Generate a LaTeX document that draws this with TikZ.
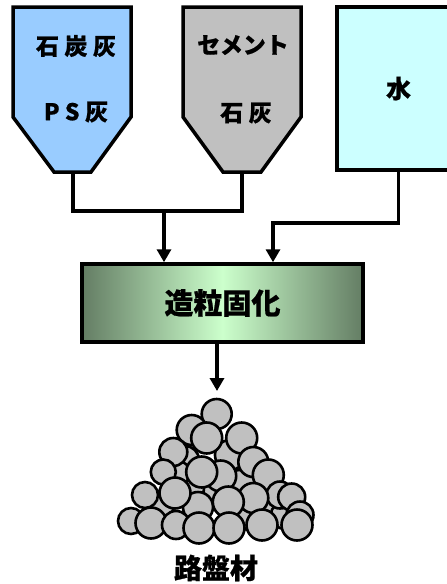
\documentclass[tikz,border=0pt]{standalone}
\usepackage{fontspec}
\setmainfont{Noto Sans CJK JP}[BoldFeatures={FakeBold=0.6}]
\newfontfamily\widefont{Noto Sans CJK JP}[LetterSpace=24, BoldFeatures={FakeBold=0.6}]
\usetikzlibrary{arrows.meta}

\definecolor{ashblue}{HTML}{99CCFF}
\definecolor{limegray}{HTML}{C0C0C0}
\definecolor{waterblue}{HTML}{CCFFFF}
\definecolor{granedge}{HTML}{647D64}
\definecolor{granmid}{HTML}{CCFFCC}

\begin{document}
\begin{tikzpicture}[x=1pt,y=-1pt,
  hopper/.style={line width=3.5pt},
  flow/.style={line width=3.5pt},
  feed/.style={flow, -{Triangle[length=13pt,width=14pt]}},
  ball/.style={line width=2.6pt, fill=limegray},
  hoptext/.style={font=\widefont\bfseries\fontsize{23}{23}\selectfont}]
  \useasboundingbox (0,0) rectangle (447,584);
  \clip (0,0) rectangle (447,584);

  % silos
  \draw[hopper, fill=ashblue] (13,7) -- (131,7) -- (131,117) -- (91,172) -- (54,172) -- (13,117) -- cycle;
  \draw[hopper, fill=limegray] (183,7) -- (301,7) -- (301,117) -- (261,172) -- (223,172) -- (183,117) -- cycle;
  \node[hoptext] (ash) at (76,46) {石炭灰};
  \node[hoptext] (psash) at (76,112) {PS灰};
  \node[hoptext, font=\bfseries\fontsize{23}{23}\selectfont] (cement) at (243,45) {セメント};
  \node[hoptext] (lime) at (246,113) {石灰};
  \node[draw, line width=3.5pt, fill=waterblue, minimum width=123pt, minimum height=163pt,
    font=\bfseries\fontsize{25}{25}\selectfont] (water) at (398.5,88.5) {水};

  % mixer
  \node[draw, line width=3.5pt, left color=granedge, right color=granedge, middle color=granmid,
    minimum width=281pt, minimum height=78pt,
    font=\bfseries\fontsize{29}{29}\selectfont] (gran) at (222.5,303) {造粒固化};

  \coordinate (ashout) at (73,172);
  \coordinate (limeout) at (242,172);
  \coordinate (mix) at (164,211);
  \coordinate (wturn) at (273,223);
  \coordinate (pile) at (217,391);
  \draw[flow] (ashout) |- (limeout |- mix) -- (limeout);
  \draw[feed] (mix) -- (mix |- gran.north);
  \draw[feed] (water.south) |- (wturn) -- (wturn |- gran.north);
  \draw[feed] (pile |- gran.south) -- (pile);

  % pile of pellets, back to front
  \foreach \bx/\by/\br in {
      240/485/15, 215/490/15, 190/488/14, 270/510/14, 160/505/14, 250/515/15, 285/515/14,
      216.7/414/15, 191.7/430/15, 185/460/14, 178/473/12, 230/455/15,
      241.7/438/15.5, 206.7/438/15.5, 173.3/452/14, 253.3/462/15,
      220.7/476/15.5, 268.3/475/15.5, 201.7/472/15.5, 163.3/472/12.5,
      280/495/13.5, 198/507/15, 145/495/13, 291.7/497/13.5,
      253.3/498/15, 175/493/15.5, 228.3/502/15.5, 300/515/13.5,
      131/521/13, 151/523/15.5, 176/525/14, 199/528/15.5,
      229/528/15.5, 262/525/15.5, 297/525/15.5}
    \draw[ball] (\bx,\by) circle[radius=\br];
  \node[font=\bfseries\fontsize{28}{28}\selectfont] (road) at (216,568) {路盤材};
\end{tikzpicture}
\end{document}
